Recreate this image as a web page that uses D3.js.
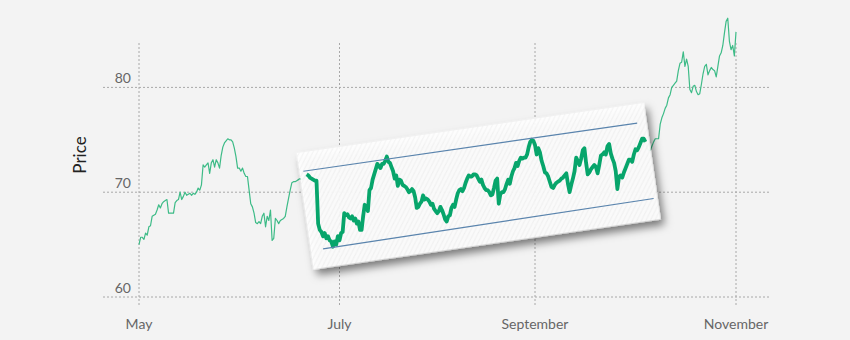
<!DOCTYPE html>
<html>
<head>
<meta charset="utf-8">
<script src="https://cdn.jsdelivr.net/npm/d3@7"></script>
<style>
  body { margin: 0; background: #f3f3f3; }
  svg { display: block; }
</style>
</head>
<body>
<svg id="chart" width="850" height="340"></svg>
<script>
// prices, two readings a day (every 12 hours) from startDate
const startDate = "2023-05-01";
const prices = [
    // May - June
    65.0, 65.7, 65.7, 65.5, 66.1, 65.9, 66.7, 66.8, 67.7, 67.8,
    67.9, 68.3, 68.8, 68.5, 68.9, 69.1, 69.2, 69.3, 68.0, 68.0,
    68.0, 68.0, 69.0, 69.2, 69.3, 70.0, 69.3, 69.6, 70.0, 69.7,
    69.8, 69.9, 69.7, 69.9, 69.8, 70.0, 70.4, 70.2, 70.7, 72.6,
    72.4, 72.6, 72.8, 71.8, 72.8, 73.1, 72.4, 73.1, 72.8, 72.3,
    73.5, 74.3, 74.7, 74.9, 75.1, 75.0, 75.0, 74.8, 74.2, 73.4,
    72.3, 72.3, 72.0, 72.3, 71.8, 71.5, 71.5, 70.2, 68.9, 68.6,
    68.0, 67.1, 67.0, 67.2, 67.0, 67.7, 68.0, 66.7, 67.7, 67.3,
    68.3, 65.4, 65.6, 67.5, 67.3, 67.0, 67.3, 67.4, 67.5, 67.7,
    68.6, 69.4, 70.2, 70.9, 71.0, 71.0, 71.1, 71.2, 71.3, 71.2,
    71.3, 71.5, 71.7, 71.6, 71.4, 71.3, 71.2, 71.1, 71.1, 67.0,
    66.4, 66.2, 65.8, 66.1, 65.6, 65.8, 65.4, 65.3, 64.8, 65.3,
    65.0, 65.8,
    // July - August
    65.4, 66.1, 66.2, 68.0, 67.8, 67.9, 67.6, 67.5, 67.7, 67.3,
    67.5, 67.0, 67.2, 66.4, 66.4, 67.7, 68.8, 68.6, 68.2, 70.2,
    70.4, 71.2, 71.7, 72.2, 72.7, 72.5, 72.3, 72.7, 72.7, 73.0,
    73.4, 72.9, 72.8, 72.4, 72.0, 71.3, 71.6, 70.6, 71.2, 71.1,
    70.7, 70.6, 70.5, 70.3, 70.0, 70.1, 70.3, 70.1, 69.5, 68.5,
    68.6, 68.9, 69.1, 69.7, 69.3, 69.4, 69.3, 69.1, 68.8, 68.9,
    68.4, 68.2, 68.0, 68.2, 68.6, 68.3, 67.9, 67.4, 67.2, 67.7,
    67.8, 68.5, 68.8, 68.6, 69.3, 69.9, 70.2, 70.3, 70.1, 70.4,
    70.9, 71.3, 71.6, 71.5, 71.5, 71.7, 71.7, 71.6, 71.3, 71.0,
    71.2, 70.7, 70.4, 70.2, 70.2, 70.0, 69.7, 69.8, 70.4, 71.1,
    71.3, 68.9, 69.8, 70.0, 70.0, 70.3, 70.8, 71.2, 70.8, 71.5,
    72.0, 72.3, 72.8, 72.5, 73.0, 73.3, 73.2, 73.3, 73.3, 73.6,
    74.3, 74.8, 75.0, 74.9,
    // September - October
    74.5, 73.6, 74.2, 73.8, 73.0, 72.5, 71.9, 71.8, 71.5, 71.0,
    70.5, 70.4, 70.7, 70.9, 71.0, 71.1, 71.3, 71.4, 71.6, 71.8,
    70.8, 70.0, 70.7, 71.3, 72.0, 73.3, 73.0, 72.6, 73.2, 74.0,
    74.2, 72.8, 71.7, 71.9, 72.2, 72.4, 72.6, 72.4, 71.8, 72.6,
    73.5, 73.6, 73.8, 73.6, 74.4, 74.6, 73.7, 73.2, 72.8, 72.0,
    70.3, 71.5, 71.6, 71.4, 71.9, 72.3, 72.7, 73.1, 73.1, 72.9,
    73.6, 74.1, 74.0, 74.3, 74.7, 75.1, 75.1, 74.8, 74.2, 74.0,
    74.0, 74.4, 74.8, 75.1, 75.1, 75.1, 76.5, 77.1, 77.5, 78.0,
    78.3, 79.0, 79.3, 80.0, 80.2, 80.4, 80.6, 81.6, 82.3, 82.4,
    83.4, 82.0, 82.7, 82.0, 79.8, 79.5, 80.1, 80.2, 79.6, 79.3,
    79.4, 80.3, 81.3, 82.0, 82.2, 81.2, 81.6, 81.9, 81.7, 81.6,
    81.0, 82.0, 83.0, 83.3, 84.0, 85.2, 86.3, 86.6, 84.4, 83.6,
    84.0, 83.0, 85.3
];

// axis ticks
const monthTicks = ["2023-05-01", "2023-07-01", "2023-09-01", "2023-11-01"];
const priceTicks = [60, 70, 80];

// highlighted stretch and its trend channel
const highlightRange = ["2023-06-21", "2023-10-05"];
const channelDates = [["2023-06-20", "2023-10-02"], ["2023-06-26", "2023-10-07"]];
const channelValues = [[72.0, 76.6], [64.6, 69.4]];

const parse = d3.timeParse("%Y-%m-%d");
const start = parse(startDate);
const data = prices.map((p, i) => ({ date: d3.timeHour.offset(start, 12 * i), price: p }));

const svg = d3.select("#chart");

// background
svg.append("rect")
    .attr("width", 850)
    .attr("height", 340)
    .attr("fill", "#f3f3f3");

const x = d3.scaleTime()
    .domain(monthTicks.map(parse))
    .range([139, 339.5, 535, 736]);

const y = d3.scaleLinear()
    .domain([60, 80])
    .range([297, 87.4]);

const defs = svg.append("defs");

// drop shadow for the callout card
const shadow = defs.append("filter")
    .attr("id", "shadow")
    .attr("x", "-10%").attr("y", "-20%")
    .attr("width", "125%").attr("height", "150%");
shadow.append("feDropShadow")
    .attr("dx", 3)
    .attr("dy", 6)
    .attr("stdDeviation", 4)
    .attr("flood-color", "#000")
    .attr("flood-opacity", 0.55);

// faint diagonal hatch on the card
const hatch = defs.append("pattern")
    .attr("id", "hatch")
    .attr("patternUnits", "userSpaceOnUse")
    .attr("width", 4)
    .attr("height", 4)
    .attr("patternTransform", "rotate(35)");
hatch.append("rect")
    .attr("width", 4)
    .attr("height", 4)
    .attr("fill", "#ffffff");
hatch.append("line")
    .attr("x1", 0).attr("y1", 0)
    .attr("x2", 0).attr("y2", 4)
    .attr("stroke", "#ececec")
    .attr("stroke-width", 1.2);

// horizontal grid
svg.selectAll("line.hgrid")
    .data(priceTicks)
    .enter()
    .append("line")
    .attr("class", "hgrid")
    .attr("x1", 103)
    .attr("x2", 770)
    .attr("y1", d => y(d))
    .attr("y2", d => y(d))
    .attr("stroke", "#a8a8a8")
    .attr("stroke-width", 1)
    .attr("stroke-dasharray", "2,2");

// vertical grid
svg.selectAll("line.vgrid")
    .data(monthTicks)
    .enter()
    .append("line")
    .attr("class", "vgrid")
    .attr("x1", d => x(parse(d)))
    .attr("x2", d => x(parse(d)))
    .attr("y1", 43)
    .attr("y2", 305)
    .attr("stroke", "#a8a8a8")
    .attr("stroke-width", 1)
    .attr("stroke-dasharray", "2,2");

// price labels
svg.selectAll("text.ylabel")
    .data(priceTicks)
    .enter()
    .append("text")
    .attr("class", "ylabel")
    .attr("x", 131)
    .attr("y", d => y(d) - 4)
    .attr("text-anchor", "end")
    .attr("font-family", "Lato, 'Open Sans', sans-serif")
    .attr("font-size", "14px")
    .attr("fill", "#666")
    .text(d => d);

// month labels
svg.selectAll("text.xlabel")
    .data(monthTicks)
    .enter()
    .append("text")
    .attr("class", "xlabel")
    .attr("x", d => x(parse(d)))
    .attr("y", 329)
    .attr("text-anchor", "middle")
    .attr("font-family", "Lato, 'Open Sans', sans-serif")
    .attr("font-size", "14px")
    .attr("fill", "#666")
    .text(d => d3.timeFormat("%B")(parse(d)));

// axis title
svg.append("text")
    .attr("transform", "translate(86,155) rotate(-90)")
    .attr("text-anchor", "middle")
    .attr("font-family", "Lato, 'Open Sans', sans-serif")
    .attr("font-size", "17px")
    .attr("fill", "#222")
    .text("Price");

const line = d3.line()
    .x(d => x(d.date))
    .y(d => y(d.price));

// full price line
svg.append("path")
    .datum(data)
    .attr("d", line)
    .attr("fill", "none")
    .attr("stroke", "#3dbb87")
    .attr("stroke-width", 1.2)
    .attr("stroke-linejoin", "round");

// callout card, aligned with the channel
const chan = channelDates.map((ds, i) => ds.map((d, j) => [x(parse(d)), y(channelValues[i][j])]));
const p1 = chan[0][0], p2 = chan[0][1];
const angle = Math.atan2(p2[1] - p1[1], p2[0] - p1[0]);
const ux = Math.cos(angle), uy = Math.sin(angle);
const pts = chan.flat();
const cx = d3.mean(pts, p => p[0]);
const cy = d3.mean(pts, p => p[1]);
const along = pts.map(p => (p[0] - cx) * ux + (p[1] - cy) * uy);
const across = pts.map(p => -(p[0] - cx) * uy + (p[1] - cy) * ux);
const padX = 4, padY = 19;
const bx0 = d3.min(along) - padX, bx1 = d3.max(along) + padX;
const by0 = d3.min(across) - padY, by1 = d3.max(across) + padY;

svg.append("rect")
    .attr("transform", `translate(${cx},${cy}) rotate(${angle * 180 / Math.PI})`)
    .attr("x", bx0)
    .attr("y", by0)
    .attr("width", bx1 - bx0)
    .attr("height", by1 - by0)
    .attr("fill", "url(#hatch)")
    .attr("fill-opacity", 0.92)
    .attr("filter", "url(#shadow)");

// highlighted stretch
const h0 = parse(highlightRange[0]), h1 = parse(highlightRange[1]);
svg.append("path")
    .datum(data.filter(d => d.date >= h0 && d.date < h1))
    .attr("d", line)
    .attr("fill", "none")
    .attr("stroke", "#07a56b")
    .attr("stroke-width", 3.8)
    .attr("stroke-linejoin", "round");

// channel lines
svg.selectAll("line.channel")
    .data(chan)
    .enter()
    .append("line")
    .attr("class", "channel")
    .attr("x1", d => d[0][0])
    .attr("y1", d => d[0][1])
    .attr("x2", d => d[1][0])
    .attr("y2", d => d[1][1])
    .attr("stroke", "#5a84ad")
    .attr("stroke-width", 1.2);
</script>
</body>
</html>
